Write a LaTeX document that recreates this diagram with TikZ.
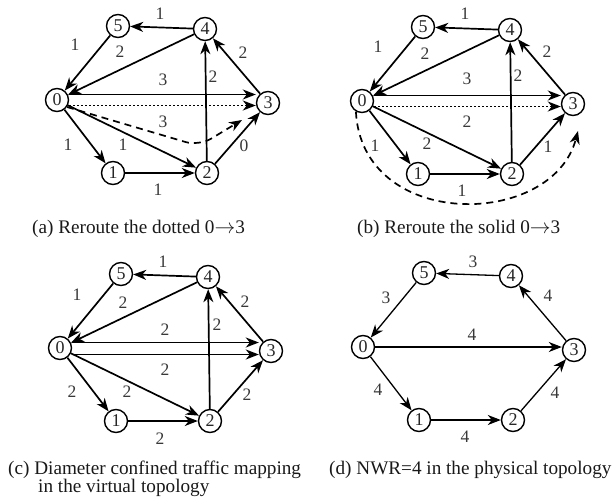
\documentclass[tikz,border=0pt]{standalone}
\usepackage{fontspec}
\setmainfont{Liberation Serif}
\usetikzlibrary{arrows.meta}
\newcommand{\hexnodes}{%
  \node[vtx] (n0) at (0,0) {0};
  \node[vtx] (n5) at (61,-74) {5};
  \node[vtx] (n4) at (148,-71) {4};
  \node[vtx] (n3) at (211,3) {3};
  \node[vtx] (n1) at (56,73) {1};
  \node[vtx] (n2) at (150,73) {2};}
\begin{document}
\begin{tikzpicture}[x=1pt,y=-1pt,
  vtx/.style={circle,draw,line width=1.4pt,minimum size=23pt,inner sep=0pt,text=black!85,font=\fontsize{18}{18}\selectfont},
  lbl/.style={inner sep=0pt,text=black!78,font=\fontsize{17.5}{17.5}\selectfont},
  arr/.style={line width=1.7pt,-{Stealth[length=13pt,width=10pt,inset=4pt]}},
  thinarr/.style={line width=1.3pt,-{Stealth[length=13pt,width=10pt,inset=4pt]}},
  dashline/.style={dash pattern=on 7pt off 5pt},
  dotline/.style={dash pattern=on 1.7pt off 2.3pt},
  captext/.style={anchor=base west,inner sep=0pt,text=black!90,font=\fontsize{19.2}{19}\selectfont}]
\useasboundingbox (0,0) rectangle (616,503);

% ---------- panel (a)
\begin{scope}[shift={(57,100)},name prefix=a-]
  \hexnodes
  \draw[arr] (n4) -- (n5);
  \draw[arr] (n5) -- (n0);
  \draw[arr] (n4) -- (n0);
  \draw[arr] ([yshift=5.5pt]n0.east) -- ([yshift=8.5pt]n3.west);
  \draw[arr,dotline] ([yshift=-5.5pt]n0.east) -- ([yshift=-2.5pt]n3.west);
  \draw[arr] (n0) -- (n2);
  \draw[arr] (n0) -- (n1);
  \draw[arr] (n1) -- (n2);
  \draw[arr] (n2) -- (n4);
  \draw[arr] (n3) -- (n4);
  \draw[arr] (n2) -- (n3);
  \coordinate (dend) at (185,20);
  \draw[arr,dashline,rounded corners=14pt] (n0.-35) -- (142,46) -- (dend);
  \node[lbl] (l1) at (103,-86) {1};
  \node[lbl] (l2) at (18,-55) {1};
  \node[lbl] (l3) at (63,-48) {2};
  \node[lbl] (l4) at (106,-20) {3};
  \node[lbl] (l5) at (106,22) {3};
  \node[lbl] (l6) at (66,45) {1};
  \node[lbl] (l7) at (11,45) {1};
  \node[lbl] (l8) at (101,90) {1};
  \node[lbl] (l9) at (156,-23) {2};
  \node[lbl] (l10) at (186,-47) {2};
  \node[lbl] (l11) at (187,46) {0};
\end{scope}

% ---------- panel (b)
\begin{scope}[shift={(362,101)},name prefix=b-]
  \hexnodes
  \draw[arr] (n4) -- (n5);
  \draw[arr] (n5) -- (n0);
  \draw[arr] (n4) -- (n0);
  \draw[arr] ([yshift=5.5pt]n0.east) -- ([yshift=8.5pt]n3.west);
  \draw[arr,dotline] ([yshift=-5.5pt]n0.east) -- ([yshift=-2.5pt]n3.west);
  \draw[arr] (n0) -- (n2);
  \draw[arr] (n0) -- (n1);
  \draw[arr] (n1) -- (n2);
  \draw[arr] (n2) -- (n4);
  \draw[arr] (n3) -- (n4);
  \draw[arr] (n2) -- (n3);
  \coordinate (dend) at (216,30);
  \draw[arr,dashline] (n0.-120) .. controls (0,130) and (190,128) .. (dend);
  \node[lbl] (l1) at (103,-87) {1};
  \node[lbl] (l2) at (16,-54) {1};
  \node[lbl] (l3) at (63,-47) {2};
  \node[lbl] (l4) at (105,-22) {3};
  \node[lbl] (l5) at (105,21) {2};
  \node[lbl] (l6) at (65,43) {2};
  \node[lbl] (l7) at (13,45) {1};
  \node[lbl] (l8) at (100,90) {1};
  \node[lbl] (l9) at (156,-25) {2};
  \node[lbl] (l10) at (185,-49) {2};
  \node[lbl] (l11) at (186,46) {1};
\end{scope}

% ---------- panel (c)
\begin{scope}[shift={(60,348)},name prefix=c-]
  \hexnodes
  \draw[arr] (n4) -- (n5);
  \draw[arr] (n5) -- (n0);
  \draw[arr] (n4) -- (n0);
  \draw[arr] ([yshift=5.5pt]n0.east) -- ([yshift=8.5pt]n3.west);
  \draw[arr] ([yshift=-6.5pt]n0.east) -- ([yshift=-3.5pt]n3.west);
  \draw[arr] (n0) -- (n2);
  \draw[arr] (n0) -- (n1);
  \draw[arr] (n1) -- (n2);
  \draw[arr] (n2) -- (n4);
  \draw[arr] (n3) -- (n4);
  \draw[arr] (n2) -- (n3);
  \node[lbl] (l1) at (103,-86) {1};
  \node[lbl] (l2) at (17,-53) {1};
  \node[lbl] (l3) at (63,-45) {2};
  \node[lbl] (l4) at (105,-18) {2};
  \node[lbl] (l5) at (105,22) {2};
  \node[lbl] (l6) at (67,44) {2};
  \node[lbl] (l7) at (12,44) {2};
  \node[lbl] (l8) at (100,91) {2};
  \node[lbl] (l9) at (157,-23) {2};
  \node[lbl] (l10) at (185,-46) {2};
  \node[lbl] (l11) at (187,47) {2};
\end{scope}

% ---------- panel (d)
\begin{scope}[shift={(363,347)},name prefix=d-]
  \hexnodes
  \draw[thinarr] (n4) -- (n5);
  \draw[thinarr] (n5) -- (n0);
  \draw[thinarr] (n0.east) -- ([yshift=3pt]n3.west);
  \draw[thinarr] (n0) -- (n1);
  \draw[thinarr] (n1) -- (n2);
  \draw[thinarr] (n3) -- (n4);
  \draw[thinarr] (n2) -- (n3);
  \node[lbl] (l1) at (110,-85) {3};
  \node[lbl] (l2) at (23,-49) {3};
  \node[lbl] (l4) at (109,-12) {4};
  \node[lbl] (l7) at (15,43) {4};
  \node[lbl] (l8) at (102,90) {4};
  \node[lbl] (l10) at (185,-51) {4};
  \node[lbl] (l11) at (192,46) {4};
\end{scope}

% ---------- captions
\node[captext] (capa) at (32,233) {(a) Reroute the dotted 0$\rightarrow$3};
\node[captext] (capb) at (357,233) {(b) Reroute the solid 0$\rightarrow$3};
\node[captext] (capc) at (8,474) {(c) Diameter confined traffic mapping};
\node[captext] (capc2) at (38,492.5) {in the virtual topology};
\node[captext] (capd) at (329,474) {(d) NWR=4 in the physical topology};
\end{tikzpicture}
\end{document}
